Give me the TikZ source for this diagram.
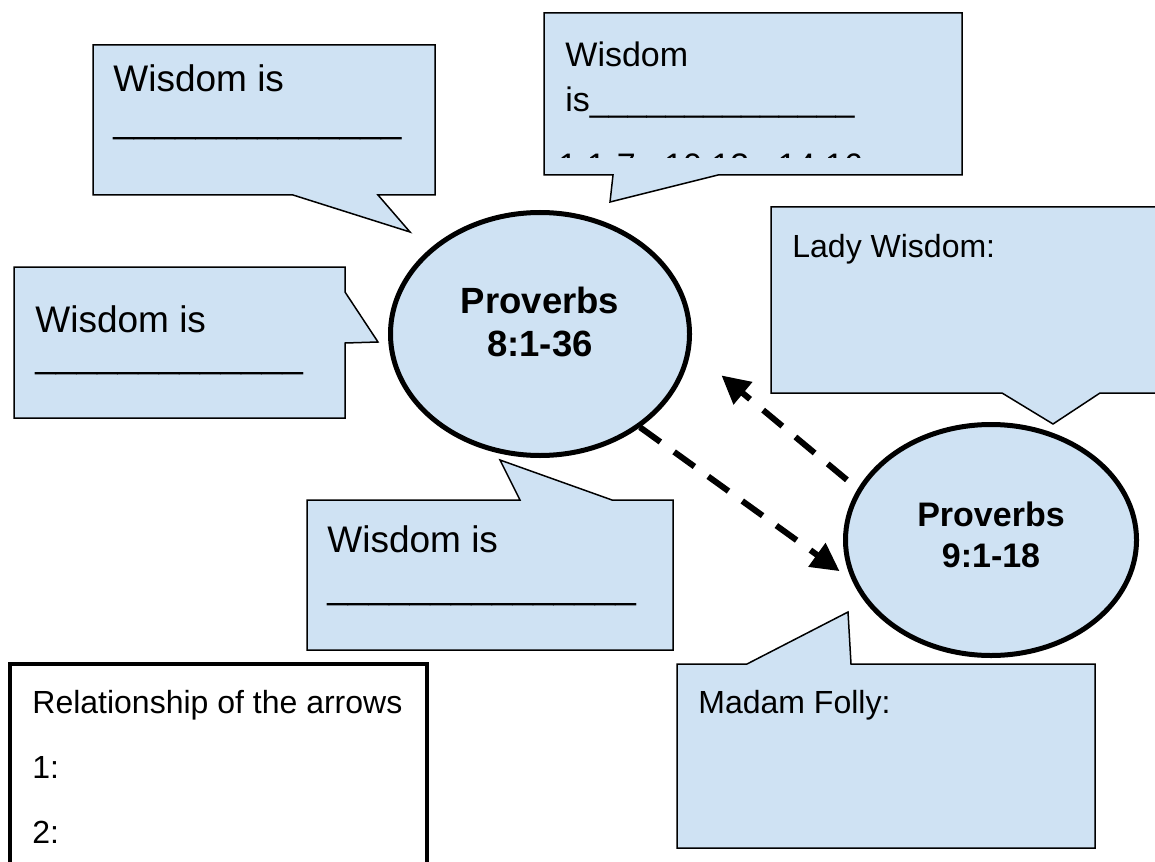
\documentclass[tikz,border=0pt]{standalone}
\usepackage{fontspec}
\setmainfont{Liberation Sans}
\usetikzlibrary{shapes,arrows.meta,positioning}

\definecolor{bubbleblue}{HTML}{CFE2F3}

\begin{document}
\begin{tikzpicture}[x=0.5pt,y=-0.5pt,
	bubble/.style={draw=black,fill=bubbleblue,line width=0.75pt,line join=miter},
	oval/.style={ellipse,draw=black,fill=bubbleblue,line width=2.5pt,inner sep=0pt},
	bigtxt/.style={anchor=base west,inner sep=0pt,font=\fontsize{18.5}{22}\selectfont},
	midtxt/.style={anchor=base west,inner sep=0pt,font=\fontsize{17}{20}\selectfont},
	smalltxt/.style={anchor=base west,inner sep=0pt,font=\fontsize{16}{19}\selectfont},
	linkarrow/.style={line width=3pt,dash pattern=on 12.5pt off 8.5pt,-{Triangle[length=14pt,width=14pt]}}]
			\clip (0,0) rectangle (1155,861);
			
			% speech bubbles
			\draw[bubble] (93,45) -- (435,45) -- (435,195) -- (378,195) -- (410,232) -- (293,195) -- (93,195) -- cycle;
			\draw[bubble] (544,13) -- (962,13) -- (962,175) -- (718,175) -- (610,202) -- (613,175) -- (544,175) -- cycle;
			\draw[bubble] (771,207) -- (1170,207) -- (1170,393) -- (1100,393) -- (1053,424) -- (1002,393) -- (771,393) -- cycle;
			\draw[bubble] (14,267) -- (345,267) -- (345,292) -- (378,342) -- (345,343) -- (345,418) -- (14,418) -- cycle;
			\draw[bubble] (307,500) -- (520,500) -- (500,460) -- (612,500) -- (673,500) -- (673,650) -- (307,650) -- cycle;
			\draw[bubble] (677,664) -- (747,664) -- (848,612) -- (851,664) -- (1095,664) -- (1095,848) -- (677,848) -- cycle;
			
			\node[bigtxt] (tlfirst) at (113,92) {Wisdom is};
			\node[bigtxt] (tlblank) at (113,133) {\_\_\_\_\_\_\_\_\_\_\_\_\_\_};
			\node[midtxt] (tmfirst) at (565,67) {Wisdom};
			\node[midtxt] (tmblank) at (565,112) {is\_\_\_\_\_\_\_\_\_\_\_\_\_\_};
			\begin{scope}
			\clip (544,13) rectangle (962,157.5);
			\node[midtxt] (tmrefs) at (558,177) {1:1-7,\ \ 10:13,\ \ 14:16};
			\end{scope}
			\node[smalltxt] (lady) at (792,257) {Lady Wisdom:};
			\node[bigtxt] (lfirst) at (35,332) {Wisdom is};
			\node[bigtxt] (lblank) at (35,367.5) {\_\_\_\_\_\_\_\_\_\_\_\_\_};
			\node[bigtxt] (bfirst) at (327,552) {Wisdom is};
			\node[bigtxt] (bblank) at (327,598.5) {\_\_\_\_\_\_\_\_\_\_\_\_\_\_\_};
			\node[smalltxt] (folly) at (698,713) {Madam Folly:};
			
			% the two passages
			\node[oval,minimum width=149.5pt,minimum height=121.5pt] (p8) at (540,334) {};
			\node[font=\fontsize{18.25}{21.5}\selectfont\bfseries,align=center] (p8txt) at (540,322) {Proverbs\\8:1-36};
			\node[oval,minimum width=145.5pt,minimum height=115.5pt] (p9) at (991,540) {};
			\node[font=\fontsize{17}{20.5}\selectfont\bfseries,align=center] (p9txt) at (991,535) {Proverbs\\9:1-18};
			
			\draw[linkarrow,shorten >=7.5pt] (p8.-43) -- (p9.196);
			\draw[linkarrow,shorten <=7pt,shorten >=20pt] (p9.159) -- (p8.-6);
			
			% answer box
			\draw[line width=2pt,fill=white] (10,664) rectangle (427,880);
			\node[smalltxt] (relhead) at (32,713) {Relationship of the arrows};
			\node[smalltxt] (relone) at (32,778) {1:};
			\node[smalltxt] (reltwo) at (32,843) {2:};
\end{tikzpicture}
\end{document}
